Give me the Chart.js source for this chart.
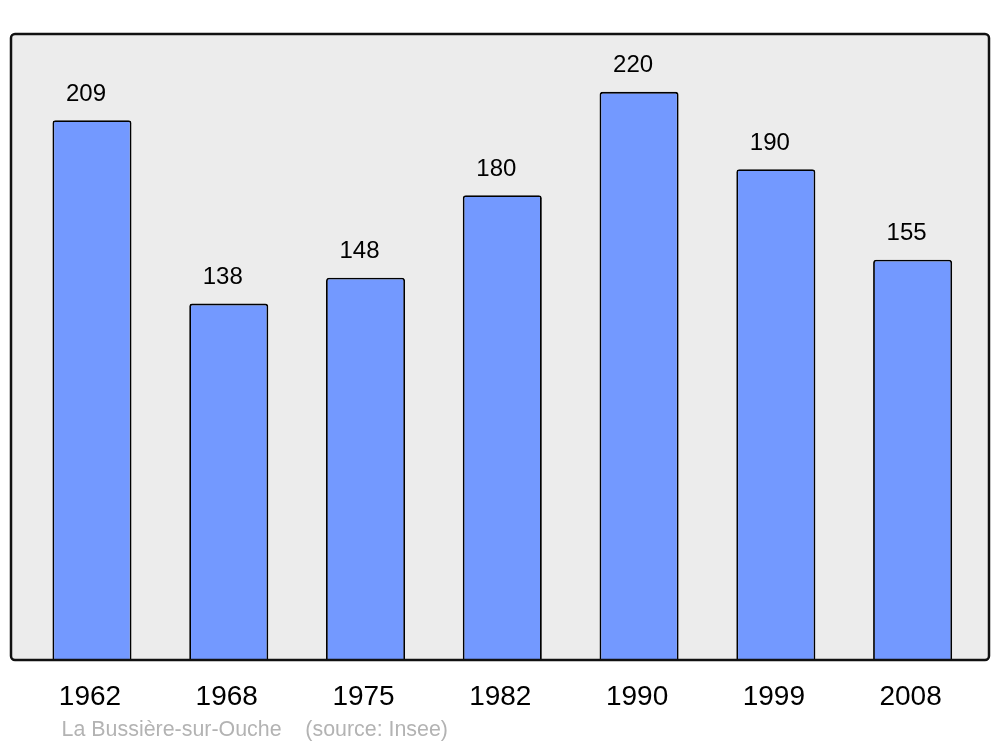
<!DOCTYPE html>
<html lang="fr">
<head>
  <meta charset="UTF-8">
  <title>La Bussière-sur-Ouche - population</title>
  <script src="https://cdn.jsdelivr.net/npm/chart.js"></script>
  <style>
    html, body { margin: 0; padding: 0; background: #fff; }
    #wrap { width: 1000px; height: 747px; position: relative; }
  </style>
</head>
<body>
<div id="wrap"><canvas id="popChart"></canvas></div>
<script>
// données
const years = ["1962", "1968", "1975", "1982", "1990", "1999", "2008"];
const population = [209, 138, 148, 180, 220, 190, 155];
const footerText = "La Bussière-sur-Ouche    (source: Insee)";

const FONT = '"Liberation Sans", Arial, sans-serif';

// fond gris + cadre noir arrondi autour de la zone du graphique
const framePlugin = {
  id: "frame",
  framePath(chart) {
    const a = chart.chartArea;
    const x0 = a.left - 12.6, x1 = a.right + 8, y0 = a.top, y1 = a.bottom;
    const ctx = chart.ctx;
    ctx.beginPath();
    ctx.roundRect(x0, y0, x1 - x0, y1 - y0, 4);
  },
  beforeDatasetsDraw(chart) {
    const ctx = chart.ctx;
    ctx.save();
    this.framePath(chart);
    ctx.fillStyle = "#ececec";
    ctx.fill();
    ctx.restore();
  },
  afterDatasetsDraw(chart) {
    const ctx = chart.ctx;
    ctx.save();
    this.framePath(chart);
    ctx.lineWidth = 2.5;
    ctx.strokeStyle = "#111";
    ctx.stroke();

    // valeurs au-dessus des barres
    const meta = chart.getDatasetMeta(0);
    ctx.font = "24px " + FONT;
    ctx.fillStyle = "#000";
    ctx.textAlign = "center";
    ctx.textBaseline = "middle";
    meta.data.forEach((bar, i) => {
      ctx.fillText(String(population[i]), bar.x - 6, bar.y - 26);
    });

    // source
    ctx.font = "21.4px " + FONT;
    ctx.fillStyle = "#b3b3b3";
    ctx.textAlign = "left";
    ctx.fillText(footerText, chart.chartArea.left + 38, 730);
    ctx.restore();
  }
};

new Chart(document.getElementById("popChart"), {
  type: "bar",
  data: {
    labels: years,
    datasets: [{
      data: population,
      backgroundColor: "#7399ff",
      borderColor: "#000",
      borderWidth: 1.8,
      borderRadius: { topLeft: 3, topRight: 3, bottomLeft: 0, bottomRight: 0 },
      borderSkipped: "bottom",
      categoryPercentage: 1,
      barPercentage: 0.578
    }]
  },
  options: {
    responsive: true,
    maintainAspectRatio: false,
    animation: false,
    layout: { padding: { left: 23.6, right: 19, top: 34, bottom: 35.4 } },
    plugins: {
      legend: { display: false },
      tooltip: { enabled: false },
      title: { display: false }
    },
    scales: {
      x: {
        grid: { display: false, drawTicks: false },
        border: { display: false },
        ticks: {
          color: "#000",
          font: { size: 28, family: FONT },
          padding: 20,
          labelOffset: -2,
          maxRotation: 0
        },
        afterFit(scale) { scale.height = 51.6; }
      },
      y: {
        display: false,
        min: 0,
        max: 242.4
      }
    }
  },
  plugins: [framePlugin]
});
</script>
</body>
</html>
